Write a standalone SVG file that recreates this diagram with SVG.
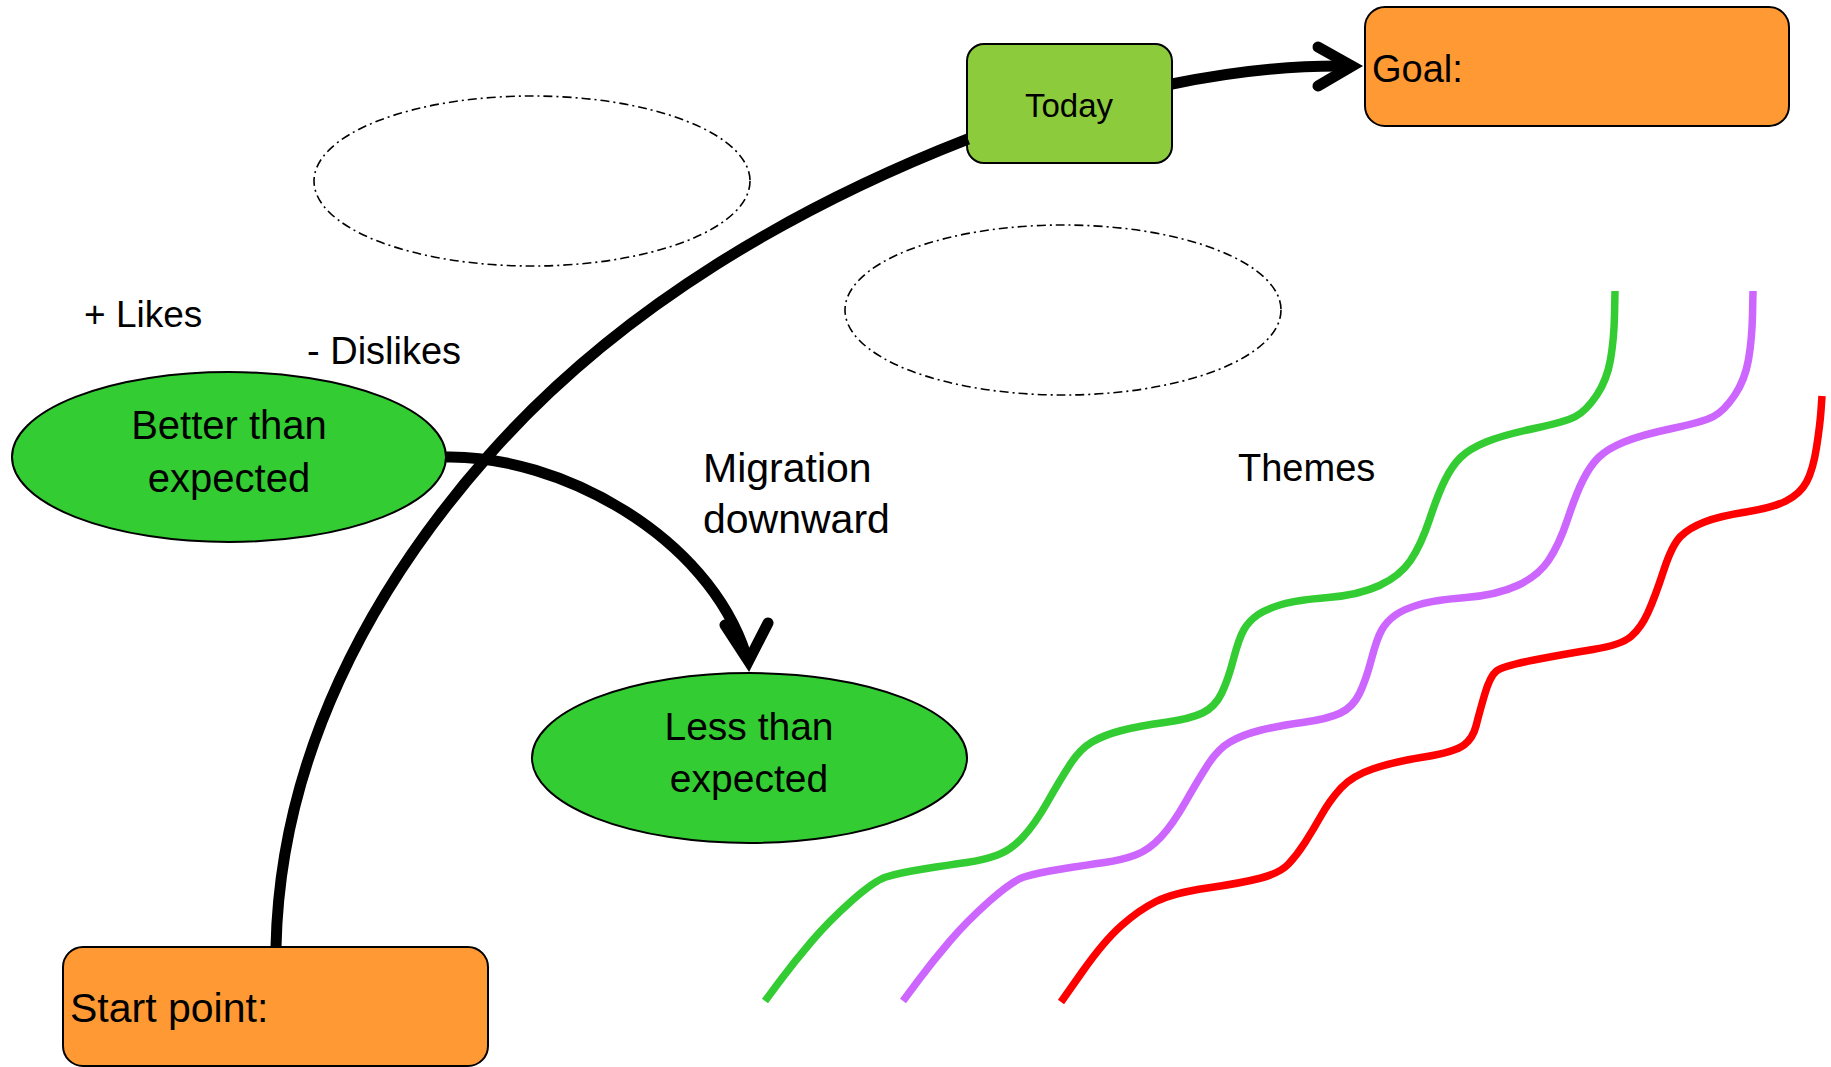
<svg xmlns="http://www.w3.org/2000/svg" width="1831" height="1067" viewBox="0 0 1831 1067">
<style>
  .t { font-family: "Liberation Sans", Arial, sans-serif; fill: #000; }
  .box { fill: #FF9933; stroke: #000; stroke-width: 2; }
  .today { fill: #8CCB3C; stroke: #000; stroke-width: 2; }
  .oval { fill: #33CC33; stroke: #000; stroke-width: 2; }
  .dash { fill: none; stroke: #000; stroke-width: 1.6; stroke-dasharray: 9 4 2 4; }
  .conn { fill: none; stroke: #000; stroke-width: 11; }
  .head { fill: none; stroke: #000; stroke-width: 11; stroke-linecap: round; stroke-linejoin: miter; }
  .wave { fill: none; stroke-width: 7.5; stroke-linecap: butt; }
</style>
<defs>
  <path id="greenWave" d="M 765 1001 L 779.5 981.5 Q 794 962 811.5 941.5 Q 829 921 851.5 901 Q 874 881 886 877 Q 898 873 923.5 869 Q 949 865 966.5 862.5 Q 984 860 997.5 855 Q 1011 850 1023 837 Q 1035 824 1047.5 802 Q 1060 780 1070 764.5 Q 1080 749 1092 742 Q 1104 735 1121.5 730.5 Q 1139 726 1164.5 722.5 Q 1190 719 1202.5 713 Q 1215 707 1221.5 693.5 Q 1228 680 1233.5 659 Q 1239 638 1244 629.5 Q 1249 621 1257.5 615 Q 1266 609 1281.5 604.5 Q 1297 600 1328 597.5 Q 1359 595 1379.5 585.5 Q 1400 576 1410.5 560.5 Q 1421 545 1429.5 519.5 Q 1438 494 1445 480 Q 1452 466 1460.5 457.5 Q 1469 449 1486 442 Q 1503 435 1534 428.5 Q 1565 422 1575.5 416.5 Q 1586 411 1596.5 395.5 Q 1607 380 1610.5 359.5 Q 1614 339 1614.5 315 L 1615 291"/>
</defs>

<g id="ellipse-top">
  <ellipse class="dash" cx="532" cy="181" rx="218" ry="85"/>
</g>
<g id="ellipse-middle">
  <ellipse class="dash" cx="1063" cy="310" rx="218" ry="85"/>
</g>

<g id="themes-waves">
  <use href="#greenWave" class="wave" stroke="#33CC33"/>
  <use href="#greenWave" class="wave" stroke="#CC66FF" transform="translate(138,0)"/>
  <path class="wave" stroke="#FF0000" d="M 1061 1002 L 1082.5 971.5 Q 1104 941 1121.5 925.5 Q 1139 910 1156 901.5 Q 1173 893 1207.5 888 Q 1242 883 1261 878 Q 1280 873 1288.5 864 Q 1297 855 1305 842.5 Q 1313 830 1321.5 815 Q 1330 800 1341 788 Q 1352 776 1372.5 769 Q 1393 762 1424 757 Q 1455 752 1464 745 Q 1473 738 1476 726 Q 1479 714 1484.5 695 Q 1490 676 1496.5 671 Q 1503 666 1534 660 Q 1565 654 1593 649.5 Q 1621 645 1631 636.5 Q 1641 628 1648 612.5 Q 1655 597 1663.5 571 Q 1672 545 1680.5 536.5 Q 1689 528 1704.5 522 Q 1720 516 1746 512 Q 1772 508 1786 501 Q 1800 494 1806.5 482 Q 1813 470 1816.5 447.5 Q 1820 425 1821 410.5 L 1822 396"/>
</g>

<g id="start-point">
  <rect class="box" x="63" y="947" width="425" height="119" rx="20" ry="20"/>
  <text class="t" x="70" y="1022" font-size="41">Start point:</text>
</g>

<g id="today">
  <rect class="today" x="967" y="44" width="205" height="119" rx="17" ry="17"/>
  <text class="t" x="1069" y="117" font-size="33" text-anchor="middle">Today</text>
</g>

<g id="goal">
  <rect class="box" x="1365" y="7" width="424" height="119" rx="20" ry="20"/>
  <text class="t" x="1372" y="82" font-size="38">Goal:</text>
</g>

<g id="better-than-expected">
  <ellipse class="oval" cx="229" cy="457" rx="217" ry="85"/>
  <text class="t" x="229" y="439" font-size="40" text-anchor="middle">Better than</text>
  <text class="t" x="229" y="492" font-size="40" text-anchor="middle">expected</text>
</g>

<g id="less-than-expected">
  <ellipse class="oval" cx="749.5" cy="758" rx="217.5" ry="85"/>
  <text class="t" x="749" y="740" font-size="39" text-anchor="middle">Less than</text>
  <text class="t" x="749" y="792" font-size="39" text-anchor="middle">expected</text>
</g>

<g id="labels">
  <text class="t" x="84" y="327" font-size="37">+ Likes</text>
  <text class="t" x="307" y="364" font-size="38">- Dislikes</text>
  <text class="t" x="703" y="482" font-size="41">Migration</text>
  <text class="t" x="703" y="533" font-size="41">downward</text>
  <text class="t" x="1238" y="481" font-size="38">Themes</text>
</g>

<g id="connectors">
  <path class="conn" d="M 276 947 C 280 757, 370 590, 489 455 C 621 305, 801 204, 968 139"/>
  <path class="conn" d="M 1172 84 C 1230 72, 1290 65, 1350 66"/>
  <path class="head" d="M 1318 47 L 1352 66 L 1318 86"/>
  <path class="conn" d="M 446 457 C 560 455, 708 536, 746 655"/>
  <path class="head" d="M 725 625 L 748.5 661 L 768 623"/>
</g>
</svg>
